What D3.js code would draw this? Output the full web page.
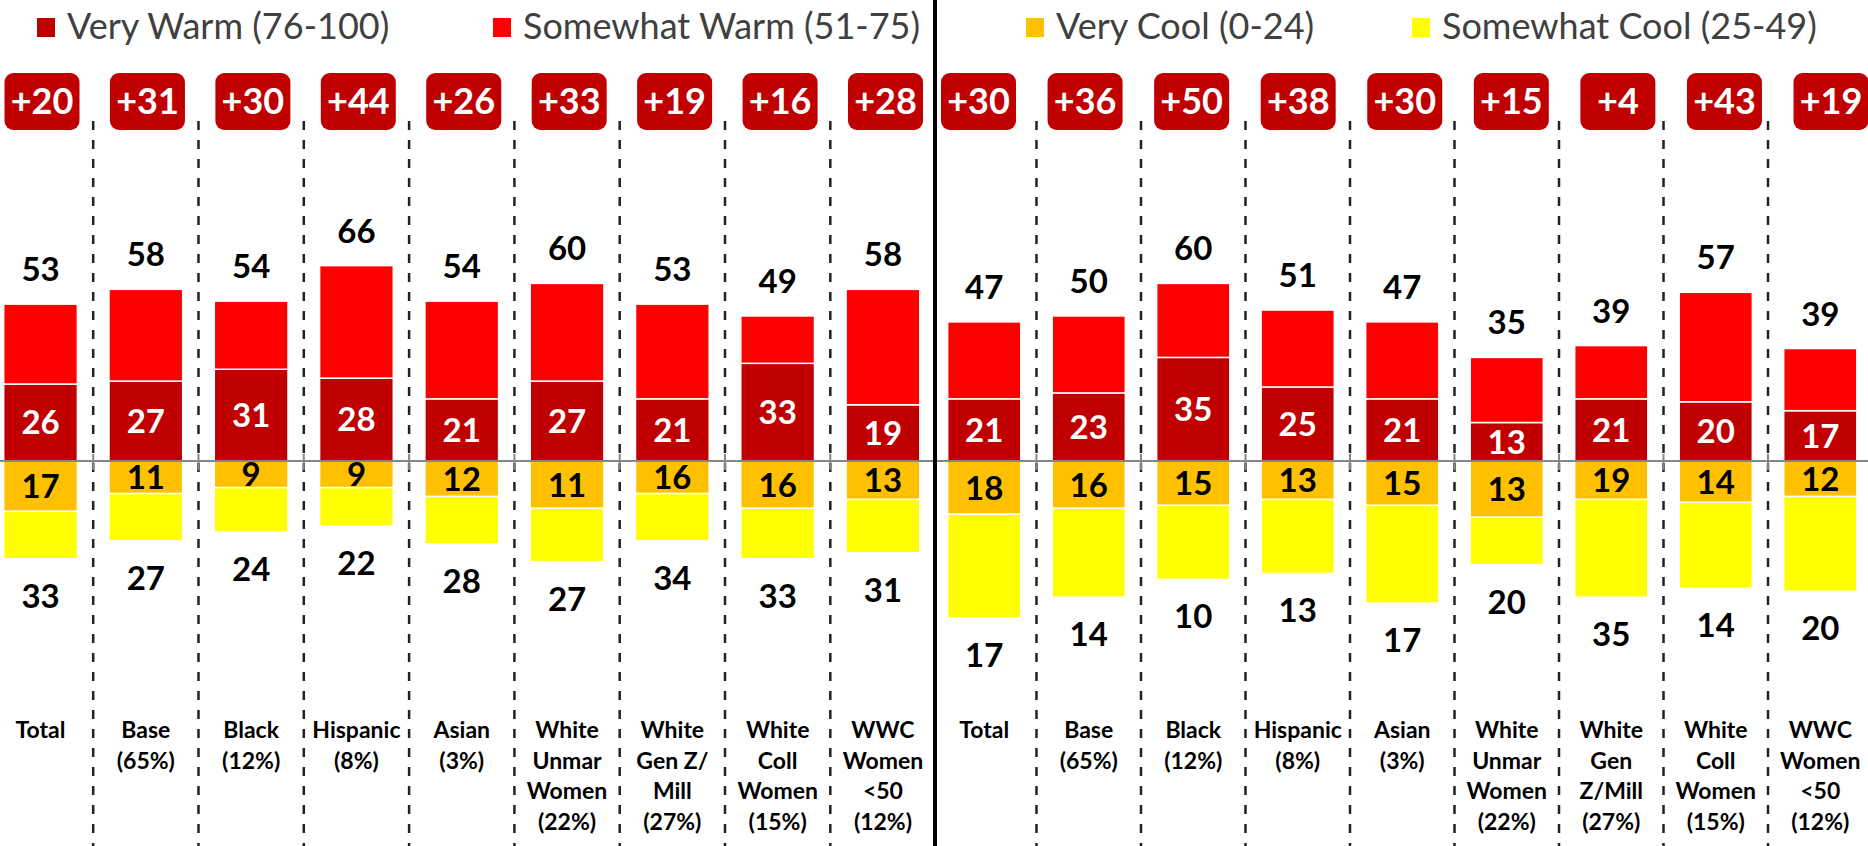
<!DOCTYPE html>
<html>
<head>
<meta charset="utf-8">
<script src="https://cdn.jsdelivr.net/npm/d3@7"></script>
<style>
  body { margin: 0; background: #fff; }
  svg { display: block; }
  text { font-family: Lato, "Open Sans", sans-serif; }
</style>
</head>
<body>
<svg id="chart"></svg>
<script>
// categories (line-broken as in the picture)
const leftCategories = [['Total'], ['Base', '(65%)'], ['Black', '(12%)'], ['Hispanic', '(8%)'], ['Asian', '(3%)'],
  ['White', 'Unmar', 'Women', '(22%)'], ['White', 'Gen Z/', 'Mill', '(27%)'], ['White', 'Coll', 'Women', '(15%)'],
  ['WWC', 'Women', '<50', '(12%)']];
const rightCategories = [['Total'], ['Base', '(65%)'], ['Black', '(12%)'], ['Hispanic', '(8%)'], ['Asian', '(3%)'],
  ['White', 'Unmar', 'Women', '(22%)'], ['White', 'Gen', 'Z/Mill', '(27%)'], ['White', 'Coll', 'Women', '(15%)'],
  ['WWC', 'Women', '<50', '(12%)']];

const legendLabels = ['Very Warm (76-100)', 'Somewhat Warm (51-75)', 'Very Cool (0-24)', 'Somewhat Cool (25-49)'];

// bar segments, as drawn
const leftVeryWarm = [26, 27, 31, 28, 21, 27, 21, 33, 19];
const leftSomewhatWarm = [27, 31, 23, 38, 33, 33, 32, 16, 39];
const leftVeryCool = [17, 11, 9, 9, 12, 16, 11, 16, 13];
const leftSomewhatCool = [16, 16, 15, 13, 16, 18, 16, 17, 18];

const rightVeryWarm = [21, 23, 35, 25, 21, 13, 21, 20, 17];
const rightSomewhatWarm = [26, 26, 25, 26, 26, 22, 18, 37, 21];
const rightVeryCool = [18, 16, 15, 13, 15, 19, 13, 14, 12];
const rightSomewhatCool = [35, 30, 25, 25, 33, 16, 33, 29, 32];

// printed labels
const leftWarmLabel = [53, 58, 54, 66, 54, 60, 53, 49, 58];
const leftVeryCoolLabel = [17, 11, 9, 9, 12, 11, 16, 16, 13];
const leftCoolLabel = [33, 27, 24, 22, 28, 27, 34, 33, 31];
const leftNet = [20, 31, 30, 44, 26, 33, 19, 16, 28];

const rightWarmLabel = [47, 50, 60, 51, 47, 35, 39, 57, 39];
const rightVeryCoolLabel = [18, 16, 15, 13, 15, 13, 19, 14, 12];
const rightCoolLabel = [17, 14, 10, 13, 17, 20, 35, 14, 20];
const rightNet = [30, 36, 50, 38, 30, 15, 4, 43, 19];

const width = 1868;
const height = 846;
const colors = {veryWarm: '#C00000', somewhatWarm: '#FF0000', veryCool: '#FFC000', somewhatCool: '#FFFF00'};
const keys = ['veryWarm', 'somewhatWarm', 'veryCool', 'somewhatCool'];

const svg = d3.select('#chart').attr('width', width).attr('height', height);

const y = d3.scaleLinear().domain([0, 100]).range([461, 165]);

const panels = [
  {range: [0, 923.5], badge: [42, 885.5], cats: leftCategories,
    vw: leftVeryWarm, sw: leftSomewhatWarm, vc: leftVeryCool, sc: leftSomewhatCool,
    warm: leftWarmLabel, vcl: leftVeryCoolLabel, cool: leftCoolLabel, net: leftNet},
  {range: [944, 1860.5], badge: [978.5, 1831], cats: rightCategories,
    vw: rightVeryWarm, sw: rightSomewhatWarm, vc: rightVeryCool, sc: rightSomewhatCool,
    warm: rightWarmLabel, vcl: rightVeryCoolLabel, cool: rightCoolLabel, net: rightNet},
];

// zero line
svg.append('line')
    .attr('x1', 0).attr('x2', width)
    .attr('y1', y(0)).attr('y2', y(0))
    .attr('stroke', '#868686').attr('stroke-width', 2);

panels.forEach((p) => {
  const idx = d3.range(p.cats.length);
  const x = d3.scaleBand().domain(idx).range(p.range)
      .paddingInner(0.3).paddingOuter(0.035);
  const bx = d3.scalePoint().domain(idx).range(p.badge);
  const gap = (x.step() - x.bandwidth()) / 2;

  const rows = idx.map((i) => ({
    veryWarm: p.vw[i], somewhatWarm: p.sw[i],
    veryCool: -p.vc[i], somewhatCool: -p.sc[i],
  }));
  const series = d3.stack().keys(keys).offset(d3.stackOffsetDiverging)(rows);

  const g = svg.append('g');

  // separators and axis ticks
  idx.slice(1).forEach((i) => {
    const sx = x(i) - gap;
    g.append('line')
        .attr('x1', sx).attr('x2', sx)
        .attr('y1', 121).attr('y2', height)
        .attr('stroke', '#222').attr('stroke-width', 2.5)
        .attr('stroke-dasharray', '9,10');
    g.append('line')
        .attr('x1', sx).attr('x2', sx)
        .attr('y1', y(0) - 7).attr('y2', y(0) + 9)
        .attr('stroke', '#868686').attr('stroke-width', 2);
  });

  g.selectAll('g.series')
      .data(series)
      .enter().append('g')
      .attr('fill', (s) => colors[s.key])
      .selectAll('rect')
      .data((s) => s)
      .enter().append('rect')
      .attr('x', (d, i) => x(i))
      .attr('width', x.bandwidth())
      .attr('y', (d) => y(Math.max(d[0], d[1])))
      .attr('height', (d) => Math.abs(y(d[0]) - y(d[1])))
      .attr('stroke', '#fff')
      .attr('stroke-width', 1.5);

  // redraw zero line over bars
  g.append('line')
      .attr('x1', p.range[0]).attr('x2', p.range[1])
      .attr('y1', y(0)).attr('y2', y(0))
      .attr('stroke', '#868686').attr('stroke-width', 2);

  const cx = (i) => x(i) + x.bandwidth() / 2;
  const num = (sel) => sel.attr('text-anchor', 'middle')
      .attr('font-weight', 700).attr('font-size', 33);

  // total warm above bars
  g.selectAll('text.warm').data(idx).enter().append('text')
      .call(num)
      .attr('x', cx)
      .attr('y', (i) => y(p.vw[i] + p.sw[i]) - 23)
      .attr('fill', '#000')
      .text((i) => p.warm[i]);

  // very warm inside
  g.selectAll('text.vw').data(idx).enter().append('text')
      .call(num)
      .attr('x', cx)
      .attr('y', (i) => y(p.vw[i] / 2))
      .attr('dy', '0.36em')
      .attr('fill', '#fff')
      .text((i) => p.vw[i]);

  // very cool inside
  g.selectAll('text.vc').data(idx).enter().append('text')
      .call(num)
      .attr('x', cx)
      .attr('y', (i) => y(-p.vc[i] / 2))
      .attr('dy', '0.36em')
      .attr('fill', '#000')
      .text((i) => p.vcl[i]);

  // total cool below bars
  g.selectAll('text.cool').data(idx).enter().append('text')
      .call(num)
      .attr('x', cx)
      .attr('y', (i) => y(-(p.vc[i] + p.sc[i])) + 49)
      .attr('fill', '#000')
      .text((i) => p.cool[i]);

  // net badges
  const badge = g.selectAll('g.badge').data(idx).enter().append('g')
      .attr('transform', (i) => `translate(${bx(i)}, 101.5)`);
  badge.append('rect')
      .attr('x', -37.5).attr('y', -28.5)
      .attr('width', 75).attr('height', 57)
      .attr('rx', 9)
      .attr('fill', '#C00000');
  badge.append('text')
      .attr('text-anchor', 'middle')
      .attr('dy', '0.36em')
      .attr('font-weight', 700).attr('font-size', 36)
      .attr('fill', '#fff')
      .text((i) => `+${p.net[i]}`);

  // category labels
  const cat = g.selectAll('text.cat').data(idx).enter().append('text')
      .attr('text-anchor', 'middle')
      .attr('font-weight', 700).attr('font-size', 23)
      .attr('fill', '#000');
  cat.selectAll('tspan')
      .data((i) => p.cats[i].map((t) => ({t, i})))
      .enter().append('tspan')
      .attr('x', (d) => cx(d.i))
      .attr('y', (d, j) => 738 + j * 30.6)
      .text((d) => d.t);
});

// divider between the two panels
svg.append('line')
    .attr('x1', 935).attr('x2', 935)
    .attr('y1', 0).attr('y2', height)
    .attr('stroke', '#000').attr('stroke-width', 4);

// legend
const legendPos = [37, 493, 1026, 1412];
const legend = svg.append('g');
legendLabels.forEach((label, i) => {
  legend.append('rect')
      .attr('x', legendPos[i]).attr('y', 18)
      .attr('width', 18).attr('height', 19)
      .attr('fill', colors[keys[i]]);
  legend.append('text')
      .attr('x', legendPos[i] + 30).attr('y', 39)
      .attr('font-size', 36)
      .attr('fill', '#404040')
      .text(label);
});
</script>
</body>
</html>
